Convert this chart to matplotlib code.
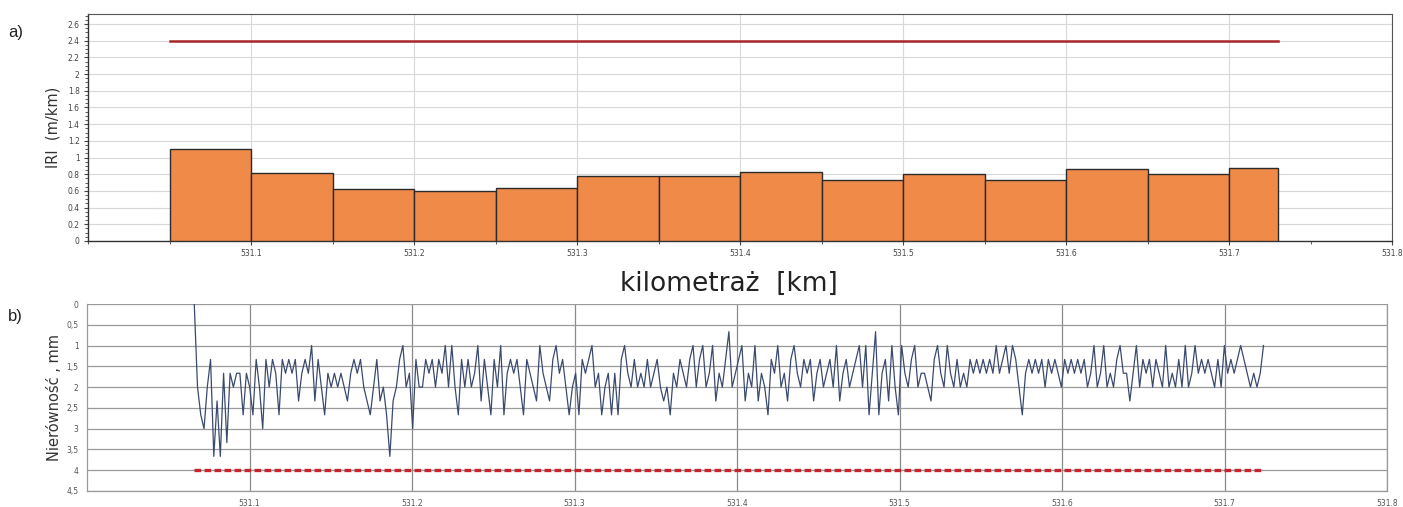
import numpy as np
import matplotlib
matplotlib.use("Agg")
import matplotlib.pyplot as plt
from matplotlib.ticker import MultipleLocator, FuncFormatter

# ---- panel a) IRI per 50 m section ----
bar_start_km = [531.05, 531.10, 531.15, 531.20, 531.25, 531.30, 531.35,
                531.40, 531.45, 531.50, 531.55, 531.60, 531.65, 531.70]
bar_end_km = [531.10, 531.15, 531.20, 531.25, 531.30, 531.35, 531.40,
              531.45, 531.50, 531.55, 531.60, 531.65, 531.70, 531.73]
iri_values = [1.10, 0.81, 0.62, 0.60, 0.63, 0.78, 0.78,
              0.83, 0.73, 0.80, 0.73, 0.86, 0.80, 0.87]
iri_limit = 2.4
iri_limit_range = [531.05, 531.73]

# ---- panel b) unevenness profile (values in thirds of a mm) ----
profile_start_km = 531.066
profile_end_km = 531.724
depth_thirds_mm = [
    0, 6, 8, 9, 6, 4, 11, 7, 11, 5, 10, 5, 6, 5, 5, 8, 5, 6, 8, 4, 6, 9, 4, 6, 4, 5, 8, 4, 5, 4,
    5, 4, 7, 5, 4, 5, 3, 7, 4, 6, 8, 5, 6, 5, 6, 5, 6, 7, 5, 4, 5, 4, 6, 7, 8, 6, 4, 7, 6, 8, 11,
    7, 6, 4, 3, 6, 5, 9, 4, 6, 6, 4, 5, 4, 6, 4, 5, 3, 6, 3, 6, 8, 4, 6, 4, 6, 5, 3, 7, 4, 6, 8, 4, 6, 3,
    8, 5, 4, 5, 4, 6, 8, 4, 5, 6, 7, 3, 5, 6, 7, 4, 3, 5, 4, 6, 8,
    6, 5, 8, 4, 5, 4, 3, 6, 5, 8, 6, 5, 8, 5, 8, 4, 3, 5, 6, 4, 6, 5, 6, 4, 6, 5, 4, 6, 7,
    6, 8, 5, 6, 4, 5, 6, 4, 3, 6, 4, 3, 6, 5, 3, 7, 5, 6, 4, 2, 6, 5, 4, 3, 7, 5, 6, 3, 7, 5,
    6, 8, 4, 5, 3, 6, 5, 7, 4, 3, 5, 6, 4, 5, 4, 7, 5, 4, 6, 5, 4, 6, 3, 7, 5, 4, 6, 5, 4, 3, 6, 3, 8, 5,
    2, 8, 5, 4, 7, 3, 6, 8, 3, 5, 6, 4, 3, 6, 5, 5, 6, 7, 4, 3, 5, 6, 3, 5, 6,
    4, 6, 5, 6, 4, 5, 4, 5, 4, 5, 4, 5, 3, 5, 4, 3, 5, 3, 4, 6, 8, 5, 4, 5, 4, 5, 4, 6, 4, 5, 4, 5, 6,
    4, 5, 4, 5, 4, 5, 4, 6, 5, 3, 6, 5, 3, 6, 5, 6, 4, 3, 5, 5, 7, 5, 3, 6, 4, 5, 4, 6, 4, 5, 6,
    3, 6, 5, 6, 4, 6, 3, 6, 5, 3, 5, 4, 5, 4, 5, 6, 4, 6, 3, 5, 4, 5, 4, 3, 4, 5, 6, 5, 6, 5, 3,
]
depth_limit = 4.0
depth_limit_range = [531.066, 531.724]

x_ticks = [531.1, 531.2, 531.3, 531.4, 531.5, 531.6, 531.7, 531.8]
x_tick_labels = ["531.1", "531.2", "531.3", "531.4", "531.5", "531.6", "531.7", "531.8"]
y_ticks_b = [0, 0.5, 1, 1.5, 2, 2.5, 3, 3.5, 4, 4.5]
y_tick_labels_b = ["0", "0,5", "1", "1,5", "2", "2,5", "3", "3,5", "4", "4,5"]

W, H = 1403, 507
fig = plt.figure(figsize=(W / 100, H / 100), dpi=100)
fig.patch.set_facecolor("white")

# ---------------- panel a ----------------
ax1 = fig.add_axes([88 / W, 1 - 241 / H, (1392 - 88) / W, (241 - 14) / H])
widths = [e - s for s, e in zip(bar_start_km, bar_end_km)]
ax1.bar(bar_start_km, iri_values, width=widths, align="edge",
        color="#f08a48", edgecolor="#2b2b2b", linewidth=1.0, zorder=3)
ax1.plot(iri_limit_range, [iri_limit, iri_limit], color="#a8262a", lw=1.8, zorder=4)
ax1.set_xlim(531.0, 531.8)
ax1.set_ylim(0, 2.72)
ax1.yaxis.set_major_locator(MultipleLocator(0.2))
ax1.yaxis.set_minor_locator(MultipleLocator(0.05))
ax1.xaxis.set_minor_locator(MultipleLocator(0.05))
ax1.set_xticks(x_ticks)
ax1.set_xticklabels(x_tick_labels)
ax1.yaxis.set_major_formatter(FuncFormatter(lambda v, p: ("%.1f" % v).rstrip("0").rstrip(".") if v else "0"))
ax1.grid(True, which="major", color="#d8d8d8", lw=0.8, zorder=0)
ax1.set_axisbelow(True)
ax1.tick_params(axis="both", which="major", labelsize=5.5, colors="#444444",
                length=3, width=0.8, pad=3)
ax1.tick_params(axis="both", which="minor", length=2, width=0.6, colors="#444444")
for s in ["left", "bottom"]:
    ax1.spines[s].set_color("#333333")
    ax1.spines[s].set_linewidth(1.0)
for s in ["top", "right"]:
    ax1.spines[s].set_color("#555555")
    ax1.spines[s].set_linewidth(0.8)
ax1.set_ylabel("IRI  (m/km)", fontsize=10.5, color="#333333", labelpad=5)

fig.text(729 / W, 1 - 284 / H, "kilometraż  [km]", fontsize=19, color="#222222",
         ha="center", va="center", family="DejaVu Sans")
fig.text(8 / W, 1 - 32 / H, "a)", fontsize=12, family="Liberation Sans",
         ha="left", va="center", color="#222222")
fig.text(8 / W, 1 - 316 / H, "b)", fontsize=12, family="Liberation Sans",
         ha="left", va="center", color="#222222")

# ---------------- panel b ----------------
ax2 = fig.add_axes([87 / W, 1 - 491 / H, (1387 - 87) / W, (491 - 304) / H])
depth_mm = np.array(depth_thirds_mm) / 3.0
profile_km = np.linspace(profile_start_km, profile_end_km, len(depth_mm))
ax2.plot(profile_km, depth_mm, color="#3a4a6e", lw=0.9, zorder=3)
ax2.plot(depth_limit_range, [depth_limit, depth_limit], color="#c8242b", lw=2.4,
         dashes=(2.0, 1.0), zorder=4)
ax2.set_xlim(531.0, 531.8)
ax2.set_ylim(4.5, 0)
ax2.set_xticks(x_ticks)
ax2.set_xticklabels(x_tick_labels)
ax2.set_yticks(y_ticks_b)
ax2.set_yticklabels(y_tick_labels_b)
ax2.grid(True, which="major", axis="y", color="#9a9a9a", lw=0.9, zorder=0)
ax2.grid(True, which="major", axis="x", color="#8a8a8a", lw=0.9, zorder=0)
ax2.set_axisbelow(True)
ax2.tick_params(axis="both", which="major", labelsize=5.5, colors="#555555",
                length=0, pad=6)
for s in ax2.spines.values():
    s.set_color("#999999")
    s.set_linewidth(0.9)
ax2.spines["top"].set_visible(False)
ax2.set_ylabel("Nierówność , mm", fontsize=10.5, color="#333333", labelpad=3)

fig.savefig("out.png", dpi=100, facecolor="white")
